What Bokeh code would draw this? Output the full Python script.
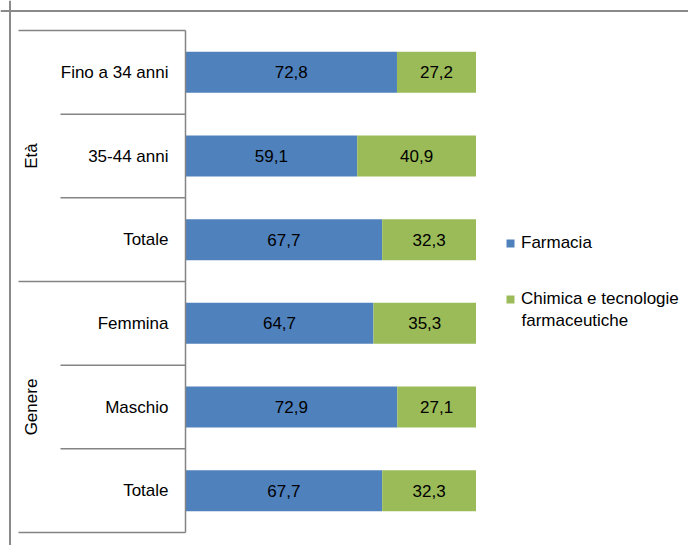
import math
from bokeh.plotting import figure
from bokeh.models import Range1d, Span, Legend, LegendItem, ColumnDataSource, Label
from bokeh.embed import file_html
from bokeh.resources import INLINE
from bokeh.core.properties import value

# ---------------- data ----------------
groups = ["Età", "Genere"]
group_sizes = [3, 3]
categories = ["Fino a 34 anni", "35-44 anni", "Totale", "Femmina", "Maschio", "Totale"]
farmacia = [72.8, 59.1, 67.7, 64.7, 72.9, 67.7]
chimica = [27.2, 40.9, 32.3, 35.3, 27.1, 32.3]
series_names = ["Farmacia", "Chimica e tecnologie\nfarmaceutiche"]
colors = ["#4F81BD", "#9BBB59"]

# ---------------- geometry (pixels inside the figure) ----------------
W, H = 688, 545
X0_PX = 185.0          # where 0 % sits
X100_PX = 475.5        # where 100 % sits
PXU = (X100_PX - X0_PX) / 100.0
Y_TOP_PX = 30.0        # top of first band
BAND_PX = 83.67        # band height

def xdata(px):
    return (px - X0_PX) / PXU

def ydata(px):
    return (px - Y_TOP_PX) / BAND_PX

FONT = "Liberation Sans"
FS = "17px"

p = figure(width=W, height=H, output_backend="svg", toolbar_location=None,
           x_range=Range1d(xdata(0), xdata(W)),
           y_range=Range1d(ydata(H), ydata(0)),
           x_axis_location=None, y_axis_location=None,
           min_border=0, min_border_left=0, min_border_right=0,
           min_border_top=0, min_border_bottom=0)
p.grid.visible = False
p.outline_line_color = None
p.background_fill_color = "white"
p.border_fill_color = "white"

n = len(categories)
yc = [i + 0.5 for i in range(n)]
totals = [a + b for a, b in zip(farmacia, chimica)]

src = ColumnDataSource(dict(
    y=yc, f=farmacia, c=chimica, tot=totals,
    fmid=[v / 2 for v in farmacia],
    cmid=[a + b / 2 for a, b in zip(farmacia, chimica)],
    flab=[f"{v:.1f}".replace(".", ",") for v in farmacia],
    clab=[f"{v:.1f}".replace(".", ",") for v in chimica],
    cat=categories,
))

r1 = p.hbar(y="y", left=0, right="f", height=0.49, source=src,
            fill_color=colors[0], line_color=None)
r2 = p.hbar(y="y", left="f", right="tot", height=0.49, source=src,
            fill_color=colors[1], line_color=None)

for col, xcol in (("flab", "fmid"), ("clab", "cmid")):
    p.text(x=xcol, y="y", text=col, source=src, text_align="center",
           text_baseline="middle", text_font=value(FONT), text_font_size=FS,
           text_color="black")

# category labels
p.text(x=0, y="y", text="cat", source=src, x_offset=-17, text_align="right",
       text_baseline="middle", text_font=value(FONT), text_font_size=FS,
       text_color="black")

# group labels
gstart = [sum(group_sizes[:k]) for k in range(len(groups))]
gmid = [s + g / 2 for s, g in zip(gstart, group_sizes)]
p.text(x=[0] * len(groups), y=gmid, text=groups, x_offset=-154, angle=math.pi / 2,
       text_align="center", text_baseline="middle", text_font=value(FONT),
       text_font_size=FS, text_color="black")

# separators
LINE = "#848484"
outer_edges = [0] + [s + g for s, g in zip(gstart, group_sizes)]
inner_edges = [s + k for s, g in zip(gstart, group_sizes) for k in range(1, g)]
p.segment(x0=[xdata(18)] * len(outer_edges), x1=[0] * len(outer_edges),
          y0=outer_edges, y1=outer_edges, line_color=LINE, line_width=1.5)
p.segment(x0=[xdata(60)] * len(inner_edges), x1=[0] * len(inner_edges),
          y0=inner_edges, y1=inner_edges, line_color=LINE, line_width=1.5)
p.segment(x0=[0], x1=[0], y0=[0], y1=[n], line_color=LINE, line_width=1.5)

# outer frame (top + left)
p.add_layout(Span(location=ydata(10.5), dimension="width", line_color="#8a8a8a", line_width=2))
p.add_layout(Span(location=xdata(9.5), dimension="height", line_color="#8a8a8a", line_width=2))

# legend: first line of each name next to its swatch, continuation lines below
name_lines = [s.split("\n") for s in series_names]
LEG_X, GLYPH, STANDOFF = 505, 10, 6
legend = Legend(items=[LegendItem(label=name_lines[0][0], renderers=[r1]),
                       LegendItem(label=name_lines[1][0], renderers=[r2])],
                location=(LEG_X, 236), orientation="vertical",
                glyph_width=GLYPH, glyph_height=GLYPH, label_standoff=STANDOFF,
                spacing=36, label_height=20,
                padding=0, margin=0, border_line_color=None,
                background_fill_alpha=0, label_text_font=FONT,
                label_text_font_size=FS, label_text_color="black")
p.add_layout(legend)
for k, extra in enumerate(name_lines[1][1:]):
    p.add_layout(Label(x=LEG_X + GLYPH + STANDOFF, y=H - 320 - 21 * k,
                       x_units="screen", y_units="screen", text=extra,
                       text_baseline="middle", text_align="left",
                       text_font=FONT, text_font_size=FS, text_color="black"))

open("out.html", "w").write(file_html(p, INLINE))
